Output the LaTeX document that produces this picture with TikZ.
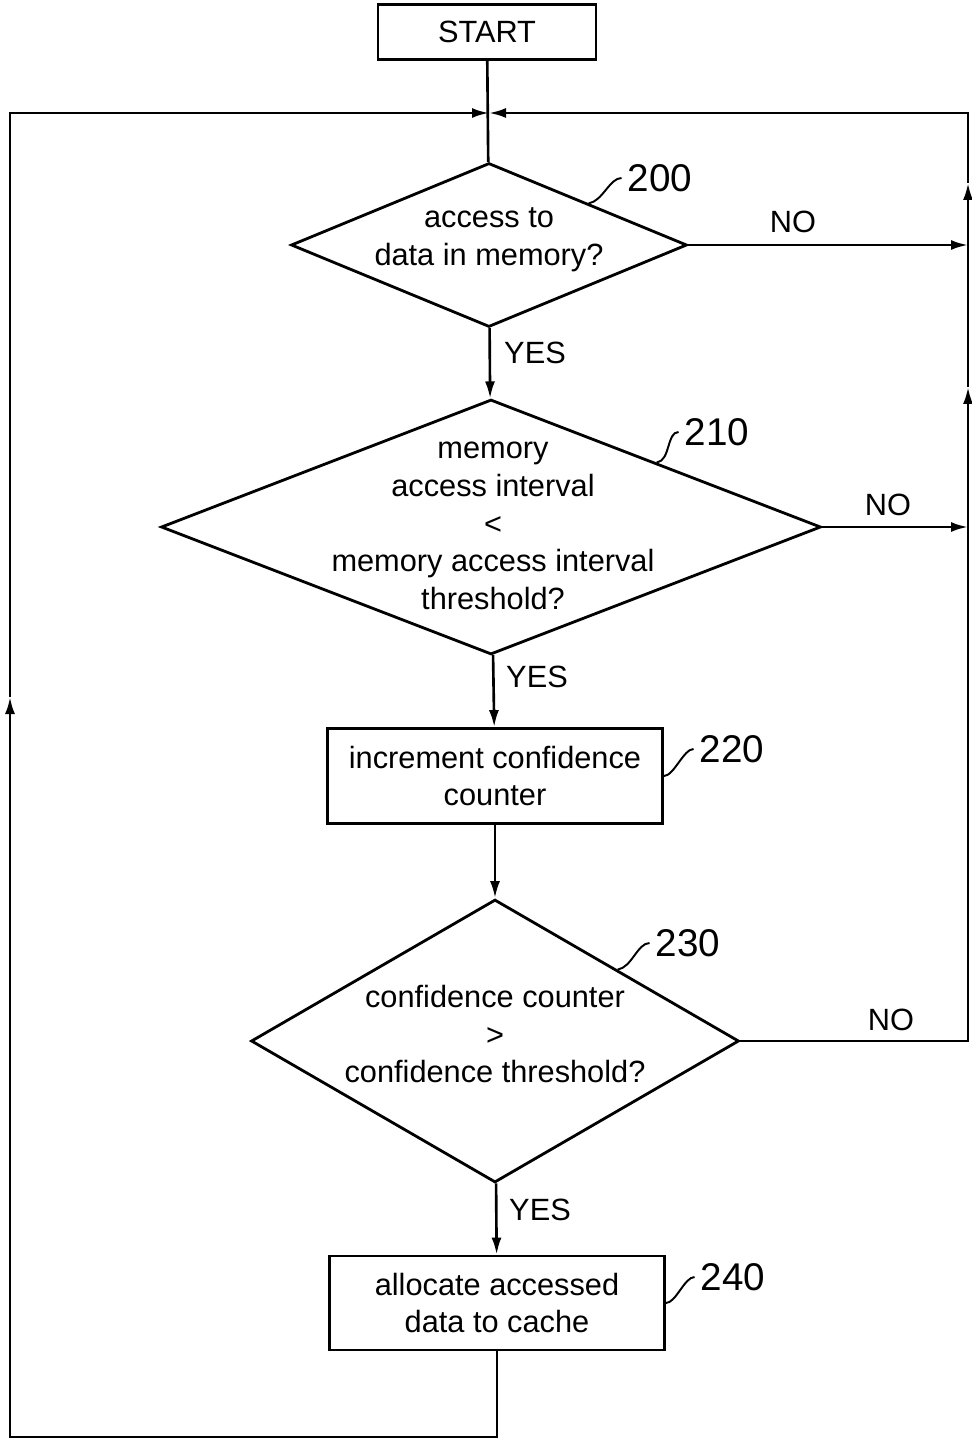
\documentclass[tikz,border=0pt]{standalone}
\usepackage{fontspec}
\setmainfont{Liberation Sans}
\usetikzlibrary{shapes.geometric,arrows.meta}

\tikzset{
  decision/.style={draw, diamond, inner sep=0pt, line width=1.6pt},
  process/.style={draw, rectangle, inner sep=0pt, line width=1.6pt},
  flow/.style={line width=1.5pt},
  arr/.style={flow, -{Latex[length=3.4mm,width=2mm]}},
  txt/.style={align=center, font=\fontsize{17.5}{21.5}\selectfont},
  refno/.style={font=\fontsize{22}{24}\selectfont},
  squig/.style={line width=1.1pt},
}

\begin{document}
\begin{tikzpicture}[x=0.02cm,y=-0.02cm]
  \useasboundingbox (0,0) rectangle (971,1439);

  % boxes and decisions
  \node[process, txt, minimum width=4.36cm, minimum height=1.1cm] (start) at (487,32) {START};
  \node[decision, minimum width=7.92cm, minimum height=3.28cm] (d200) at (489,245) {};
  \node[txt] (t200) at (489,240) {access to\\data in memory?};
  \node[decision, minimum width=13.2cm, minimum height=5.1cm] (d210) at (491,527) {};
  \node[txt] (t210) at (493,526) {memory\\access interval\\<\\memory access interval\\threshold?};
  \node[process, txt, minimum width=6.7cm, minimum height=1.9cm] (b220) at (495,776) {increment confidence\\counter};
  \node[decision, minimum width=9.76cm, minimum height=5.66cm] (d230) at (495,1041) {};
  \node[txt] (t230) at (495,1034) {confidence counter\\>\\confidence threshold?};
  \node[process, txt, minimum width=6.7cm, minimum height=1.88cm] (b240) at (497,1303) {allocate accessed\\data to cache};

  % reference numbers
  \node[refno] (n200) at (660,178) {200};
  \node[refno] (n210) at (717,432) {210};
  \node[refno] (n220) at (732,749) {220};
  \node[refno] (n230) at (688,943) {230};
  \node[refno] (n240) at (733,1277) {240};

  % YES / NO
  \node[txt] (no200) at (793,222) {NO};
  \node[txt] (yes200) at (535,353) {YES};
  \node[txt] (no210) at (888,505) {NO};
  \node[txt] (yes210) at (537,677) {YES};
  \node[txt] (no230) at (891,1020) {NO};
  \node[txt] (yes230) at (540,1210) {YES};

  % loop corners
  \coordinate (join) at (489,113);
  \coordinate (rtop) at (968,113);
  \coordinate (rup1) at (968,183);
  \coordinate (rup2) at (968,387);
  \coordinate (ltop) at (10,113);
  \coordinate (lup) at (10,697);
  \coordinate (lbot) at (10,1437);
  \coordinate (bot) at (497,1437);

  \draw[flow] (start) -- (d200);
  \draw[arr] (d200) -- (d210);
  \draw[arr] (d210) -- (b220);
  \draw[arr] (b220) -- (d230);
  \draw[arr] (d230) -- (b240);

  \draw[arr] (d200.east) -- (d200.east -| rtop);
  \draw[arr] (d210.east) -- (d210.east -| rtop);
  \draw[arr] (d230.east) -- (d230.east -| rtop) -- (rup2);
  \draw[arr] (rup2) -- (rup1);
  \draw[arr] (rup1) -- (rtop) -- (join);

  \draw[arr] (b240.south) -- (bot) -- (lbot) -- (lup);
  \draw[arr] (lup) -- (ltop) -- (join);

  % squiggles
  \draw[squig] (d200.north east) .. controls +(14,-2) and +(-12,0) .. (n200.west);
  \draw[squig] (d210.north east) .. controls +(14,-2) and +(-12,0) .. (n210.west);
  \draw[squig] (b220.east) .. controls +(10,0) and +(-10,0) .. (n220.west);
  \draw[squig] (d230.north east) .. controls +(14,-2) and +(-12,0) .. (n230.west);
  \draw[squig] (b240.east) .. controls +(10,0) and +(-10,0) .. (n240.west);
\end{tikzpicture}
\end{document}
